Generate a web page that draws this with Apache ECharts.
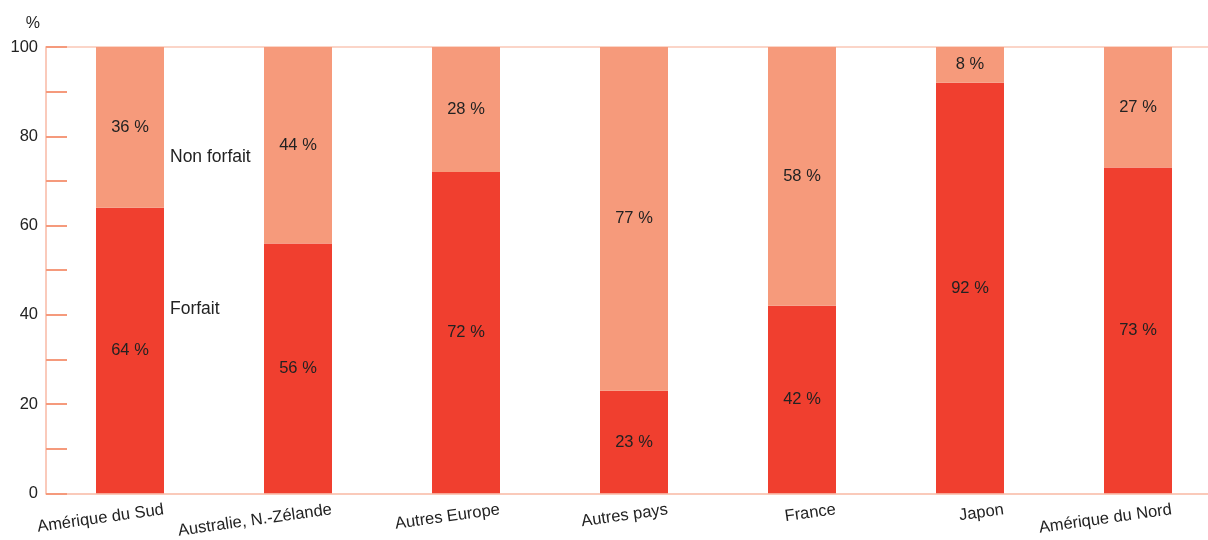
<!DOCTYPE html>
<html>
<head>
<meta charset="utf-8">
<script src="https://cdn.jsdelivr.net/npm/echarts@6/dist/echarts.min.js"></script>
<style>html,body{margin:0;padding:0;background:#fff;overflow:hidden}#c{width:1222px;height:540px}</style>
</head>
<body>
<div id="c"></div>
<script>
var categories = ['Amérique du Sud', 'Australie, N.-Zélande', 'Autres Europe', 'Autres pays', 'France', 'Japon', 'Amérique du Nord'];
var forfait = [64, 56, 72, 23, 42, 92, 73];
var nonForfait = [36, 44, 28, 77, 58, 8, 27];
var seriesNames = ['Forfait', 'Non forfait'];

var FONT = '"Liberation Sans", Arial, Helvetica, sans-serif';
var chart = echarts.init(document.getElementById('c'));
var labelOpt = {
  show: true, position: 'inside', color: '#222', fontSize: 16.5, fontFamily: FONT,
  formatter: function (p) { return p.value + ' %'; }
};
chart.setOption({
  animation: false,
  grid: { left: 46, top: 47, width: 1176, height: 447 },
  xAxis: [{
    type: 'category', data: categories, position: 'bottom',
    axisLine: { lineStyle: { color: '#F9B9A4', width: 1.5 } },
    axisTick: { show: false },
    axisLabel: {
      rotate: 8, margin: 21, color: '#222', fontSize: 16.5, fontFamily: FONT,
      interval: 0, padding: [0, -34, 0, 0]
    }
  }, {
    type: 'category', data: categories, position: 'top',
    axisLine: { lineStyle: { color: '#FAC7B7', width: 1.5 } },
    axisTick: { show: false }, axisLabel: { show: false }
  }],
  yAxis: {
    type: 'value', min: 0, max: 100, interval: 20,
    name: '%', nameGap: 15, nameTextStyle: { color: '#222', fontSize: 16, fontFamily: FONT, align: 'right', padding: [0, 6, 0, 0] },
    axisLine: { show: true, lineStyle: { color: '#F9B9A4', width: 1.5 } },
    axisTick: { show: true, inside: true, length: 21, lineStyle: { color: '#F59A7C', width: 2 } },
    minorTick: { show: true, splitNumber: 2, length: 21, lineStyle: { color: '#F59A7C', width: 2 } },
    splitLine: { show: false },
    axisLabel: { color: '#222', fontSize: 16.5, fontFamily: FONT, margin: 8 }
  },
  series: [{
    name: seriesNames[0], type: 'bar', stack: 's', data: forfait, barWidth: 68,
    itemStyle: { color: '#F03F2F' }, label: labelOpt
  }, {
    name: seriesNames[1], type: 'bar', stack: 's', data: nonForfait, barWidth: 68,
    itemStyle: { color: '#F69A7B' }, label: labelOpt
  }],
  graphic: [
    { type: 'text', left: 170, top: 148, style: { text: seriesNames[1], fill: '#222', fontSize: 17.5, fontFamily: FONT } },
    { type: 'text', left: 170, top: 300, style: { text: seriesNames[0], fill: '#222', fontSize: 17.5, fontFamily: FONT } }
  ]
});
</script>
</body>
</html>
